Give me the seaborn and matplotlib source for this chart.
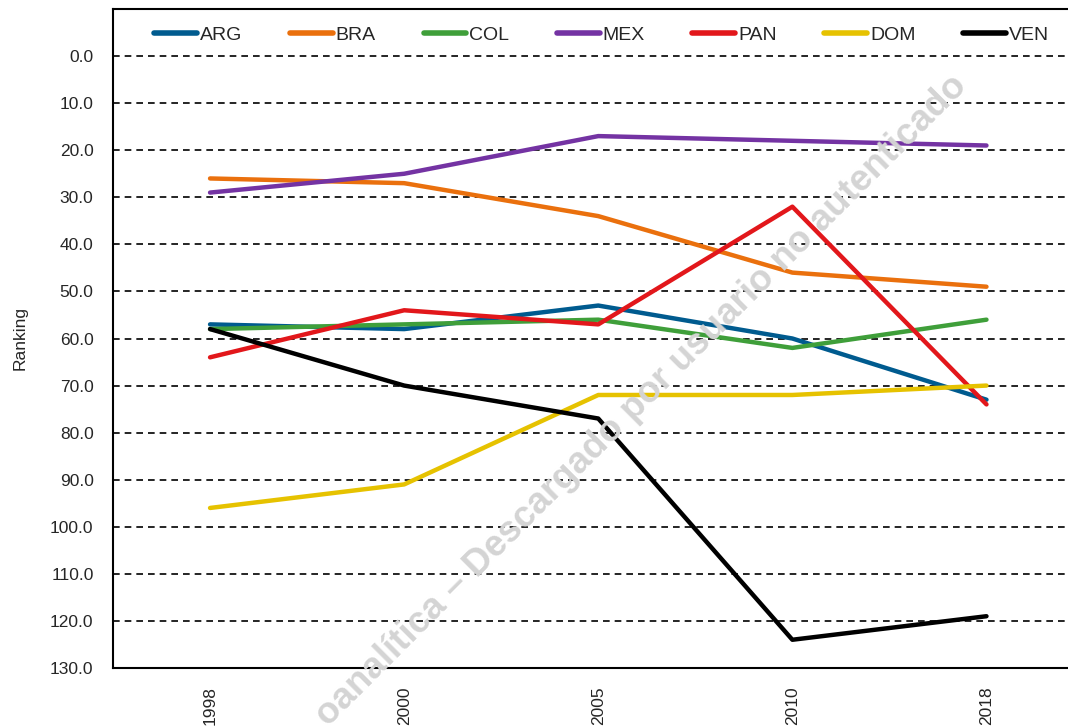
import matplotlib
matplotlib.use('Agg')
import matplotlib.pyplot as plt
import pandas as pd
import seaborn as sns

YEARS = ['1998', '2000', '2005', '2010', '2018']
ARG = [57, 58, 53, 60, 73]
BRA = [26, 27, 34, 46, 49]
COL = [58, 57, 56, 62, 56]
MEX = [29, 25, 17, 18, 19]
PAN = [64, 54, 57, 32, 74]
DOM = [96, 91, 72, 72, 70]
VEN = [58, 70, 77, 124, 119]

COUNTRIES = ['ARG', 'BRA', 'COL', 'MEX', 'PAN', 'DOM', 'VEN']
COLORS = ['#005b8f', '#ea700d', '#3f9f3a', '#7433a3', '#e2171b', '#e6c200', '#000000']
WATERMARK = 'oanalítica – Descargado por usuario no autenticado'


def build_data():
    values = [ARG, BRA, COL, MEX, PAN, DOM, VEN]
    rows = []
    for name, series in zip(COUNTRIES, values):
        for year, v in zip(YEARS, series):
            rows.append({'Year': year, 'Country': name, 'Ranking': v})
    return pd.DataFrame(rows)


def plot_data(df):
    sns.set_style('white')
    plt.rcParams['font.family'] = ['Liberation Sans', 'DejaVu Sans']

    fig = plt.figure(figsize=(10.68, 7.28), dpi=100)
    ax = fig.add_axes([113 / 1068, 1 - 668 / 728, (1068 - 113) / 1068, (668 - 9) / 728])

    # watermark behind the lines
    fig.text(0.601, 0.45, WATERMARK, rotation=45, ha='center', va='center',
             fontsize=26.5, fontweight='bold', color='#d4d4d4', zorder=0)

    sns.lineplot(data=df, x='Year', y='Ranking', hue='Country', hue_order=COUNTRIES,
                 palette=dict(zip(COUNTRIES, COLORS)), linewidth=3.2, sort=False, ax=ax,
                 solid_capstyle='round')
    ax.patch.set_alpha(0)

    ax.set_ylim(130, -10)
    ax.set_xlim(-0.5, 4.42)
    ax.set_yticks(range(0, 131, 10))
    ax.set_yticklabels([f'{v:.1f}' for v in range(0, 131, 10)], fontsize=12.5)
    ax.set_xticks(range(len(YEARS)))
    ax.set_xticklabels(YEARS, rotation=90, fontsize=12.5)
    ax.set_xlabel('')
    ax.set_ylabel('Ranking', fontsize=12.5, labelpad=16)
    ax.tick_params(axis='y', length=0, pad=14)
    ax.tick_params(axis='x', length=0, pad=13)

    for v in range(0, 121, 10):
        ax.axhline(v, color='black', linestyle=(0, (4, 3)), linewidth=1.2, zorder=0)

    for side in ['left', 'bottom', 'top']:
        ax.spines[side].set_color('black')
        ax.spines[side].set_linewidth(1.5)
    ax.spines['right'].set_visible(False)

    leg = ax.legend(loc='upper left', ncol=7, frameon=False, fontsize=14,
                    bbox_to_anchor=(0.025, 1.0), handlelength=2.2, handletextpad=0.15,
                    columnspacing=2.45, borderaxespad=0.5)
    for line in leg.get_lines():
        line.set_linewidth(4)
        line.set_solid_capstyle('round')

    fig.savefig('out.png', dpi=100)


def main():
    df = build_data()
    plot_data(df)


if __name__ == "__main__":
    main()
